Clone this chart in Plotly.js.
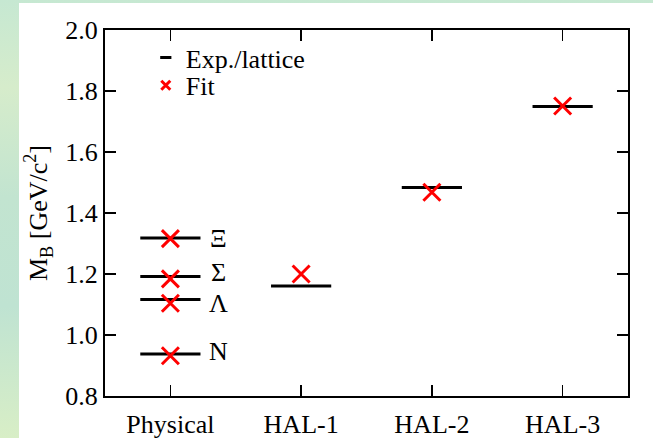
<!DOCTYPE html>
<html>
<head>
<meta charset="utf-8">
<script src="https://cdn.plot.ly/plotly-3.0.1.min.js"></script>
<style>
html,body{margin:0;padding:0;width:653px;height:438px;overflow:hidden;
background:linear-gradient(180deg,#c6e8d2 0%,#d6eccb 20%,#c2e4d0 45%,#bfe3d2 70%,#d8eec6 100%);}
#chart{position:absolute;left:19px;top:3px;width:634px;height:435px;background:#fff;}
</style>
</head>
<body>
<div id="chart"></div>
<script>
// Data
const categories = ['Physical','Physical','Physical','Physical','HAL-1','HAL-2','HAL-3'];
const baryons    = ['Ξ','Σ','Λ','N','','',''];
const expLattice = [1.318, 1.192, 1.116, 0.938, 1.161, 1.484, 1.749];
const fitValues  = [1.316, 1.184, 1.104, 0.932, 1.200, 1.468, 1.751];
const tickLabels = ['Physical','HAL-1','HAL-2','HAL-3'];

const serif = 'Liberation Serif';
const FS = 26;
// small vertical nudges of the baryon labels (pixels)
const labelNudge = {'Ξ':0, 'Σ':4, 'Λ':-4, 'N':2};

const traces = [
  {type:'scatter', mode:'markers', x:categories, y:expLattice, showlegend:false,
   marker:{symbol:'line-ew-open', size:43, color:'#000', line:{color:'#000', width:3}}, hoverinfo:'y'},
  {type:'scatter', mode:'markers', x:categories, y:fitValues, showlegend:false,
   marker:{symbol:'x-thin-open', size:17, color:'#ff0000', line:{color:'#ff0000', width:3}}, hoverinfo:'y'},
  {type:'scatter', mode:'markers', x:[null], y:[null], name:'Exp./lattice', legend:'legend',
   marker:{symbol:'line-ew-open', size:8, color:'#000', line:{color:'#000', width:3}}},
  {type:'scatter', mode:'markers', x:[null], y:[null], name:'Fit', legend:'legend2',
   marker:{symbol:'x-thin-open', size:9, color:'#ff0000', line:{color:'#ff0000', width:3}}}
];

const annotations = [];
for (let i = 0; i < baryons.length; i++) {
  if (!baryons[i]) continue;
  annotations.push({x:categories[i], y:expLattice[i], text:baryons[i], showarrow:false,
    xref:'x', yref:'y', xshift:48, yshift:labelNudge[baryons[i]] || 0,
    font:{family:serif, size:FS, color:'#000'}});
}

const legendStyle = {xanchor:'left', yanchor:'top', bgcolor:'rgba(0,0,0,0)',
    font:{family:serif, size:FS, color:'#000'}, tracegroupgap:0, itemwidth:30};

const layout = {
  width:634, height:435,
  margin:{l:86, r:25, t:27, b:42},
  paper_bgcolor:'#ffffff', plot_bgcolor:'#ffffff',
  font:{family:serif, size:FS, color:'#000'},
  xaxis:{type:'category', categoryorder:'array', categoryarray:tickLabels,
    tickvals:tickLabels, ticktext:tickLabels, range:[-0.5,3.5],
    showline:true, linewidth:2, linecolor:'#000', mirror:'allticks',
    ticks:'inside', ticklen:11, tickwidth:1.5, tickcolor:'#000', ticklabelstandoff:4,
    showgrid:false, zeroline:false, tickfont:{family:serif, size:FS, color:'#000'}},
  yaxis:{range:[0.8,2.0], dtick:0.2, tickformat:'.1f',
    showline:true, linewidth:2, linecolor:'#000', mirror:'allticks',
    ticks:'inside', ticklen:11, tickwidth:1.5, tickcolor:'#000',
    showgrid:false, zeroline:false, tickfont:{family:serif, size:FS, color:'#000'},
    title:{text:'M<sub>B</sub> [GeV/c<sup>2</sup>]', font:{family:serif, size:FS, color:'#000'}, standoff:10}},
  legend:Object.assign({x:0.078, y:0.989}, legendStyle),
  legend2:Object.assign({x:0.078, y:0.913}, legendStyle),
  annotations:annotations
};

Plotly.newPlot('chart', traces, layout, {displayModeBar:false, staticPlot:true});
</script>
</body>
</html>
